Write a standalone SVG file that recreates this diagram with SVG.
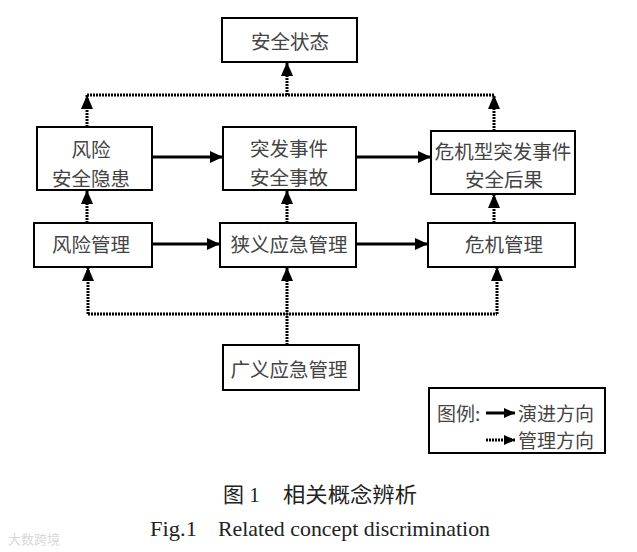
<svg xmlns="http://www.w3.org/2000/svg" width="637" height="552" viewBox="0 0 637 552">
<style>
.box{fill:#fff;stroke:#000;stroke-width:2}
.t{font-family:"Noto Sans CJK SC","Liberation Sans",sans-serif;font-size:19.5px;fill:#444;text-anchor:middle;dominant-baseline:central}
.lg{font-family:"Noto Sans CJK SC","Liberation Sans",sans-serif;font-size:19px;fill:#444;dominant-baseline:central}
.solid{stroke:#000;stroke-width:3;fill:none}
.dot{stroke:#000;stroke-width:3;fill:none;stroke-dasharray:2 1}
.cap{font-family:"Liberation Serif","Noto Sans CJK SC",serif;fill:#222}
</style>
<defs>
<marker id="ah" markerUnits="userSpaceOnUse" markerWidth="14" markerHeight="14" refX="13" refY="6" orient="auto">
<path d="M0,0 L13,6 L0,12 z" fill="#000"/>
</marker>
<marker id="sh" markerUnits="userSpaceOnUse" markerWidth="12" markerHeight="12" refX="11" refY="5" orient="auto">
<path d="M0,0 L11,5 L0,10 z" fill="#000"/>
</marker>
<marker id="dh" markerUnits="userSpaceOnUse" markerWidth="16" markerHeight="14" refX="14" refY="6" orient="auto">
<path d="M0,0 L14,6 L0,12 z" fill="#000"/>
</marker>
</defs>
<rect width="637" height="552" fill="#fff"/>

<g id="connectors">
<line class="solid" x1="152" y1="157" x2="223" y2="157" marker-end="url(#ah)"/>
<line class="solid" x1="356" y1="157" x2="431" y2="157" marker-end="url(#ah)"/>
<line class="solid" x1="152" y1="244" x2="220" y2="244" marker-end="url(#ah)"/>
<line class="solid" x1="356" y1="244" x2="428" y2="244" marker-end="url(#ah)"/>
<polyline class="dot" points="87,95 494,95"/>
<line class="dot" x1="87" y1="127" x2="87" y2="95" marker-end="url(#dh)"/>
<line class="dot" x1="494" y1="131" x2="494" y2="95" marker-end="url(#dh)"/>
<line class="dot" x1="287" y1="95" x2="287" y2="62" marker-end="url(#dh)"/>
<line class="dot" x1="87" y1="223" x2="87" y2="190" marker-end="url(#dh)"/>
<line class="dot" x1="287" y1="223" x2="287" y2="190" marker-end="url(#dh)"/>
<line class="dot" x1="494" y1="223" x2="494" y2="194" marker-end="url(#dh)"/>
<polyline class="dot" points="88,314 497,314"/>
<line class="dot" x1="88" y1="314" x2="88" y2="267" marker-end="url(#dh)"/>
<line class="dot" x1="497" y1="314" x2="497" y2="267" marker-end="url(#dh)"/>
<line class="dot" x1="287" y1="345" x2="287" y2="267" marker-end="url(#dh)"/>
</g>

<g id="n-safe">
<rect class="box" x="222" y="18" width="135" height="44"/>
<text class="t" x="290" y="40">安全状态</text>
</g>
<g id="n-risk">
<rect class="box" x="37" y="127" width="115" height="63"/>
<text class="t" x="91" y="148">风险</text>
<text class="t" x="91" y="177">安全隐患</text>
</g>
<g id="n-event">
<rect class="box" x="223" y="127" width="133" height="63"/>
<text class="t" x="289" y="147">突发事件</text>
<text class="t" x="289" y="176">安全事故</text>
</g>
<g id="n-crisis-event">
<rect class="box" x="431" y="131" width="144" height="63"/>
<text class="t" x="503" y="150">危机型突发事件</text>
<text class="t" x="504" y="178">安全后果</text>
</g>
<g id="n-risk-mgmt">
<rect class="box" x="34" y="223" width="118" height="44"/>
<text class="t" x="91" y="243">风险管理</text>
</g>
<g id="n-narrow">
<rect class="box" x="220" y="223" width="136" height="44"/>
<text class="t" x="289" y="243">狭义应急管理</text>
</g>
<g id="n-crisis-mgmt">
<rect class="box" x="428" y="223" width="147" height="44"/>
<text class="t" x="504" y="243">危机管理</text>
</g>
<g id="n-broad">
<rect class="box" x="223" y="345" width="136" height="45"/>
<text class="t" x="289" y="368">广义应急管理</text>
</g>

<g id="legend">
<rect class="box" x="429" y="388" width="176" height="65"/>
<text class="lg" x="437" y="412">图例:</text>
<line class="solid" x1="486" y1="413" x2="515" y2="413" stroke-width="2.5" marker-end="url(#sh)"/>
<text class="lg" x="518" y="412">演进方向</text>
<line class="dot" x1="486" y1="440" x2="515" y2="440" stroke-width="2.5" marker-end="url(#sh)"/>
<text class="lg" x="518" y="439">管理方向</text>
</g>

<g id="caption">
<text class="cap" x="223" y="502" font-size="21">图 1</text>
<text class="cap" x="283" y="502" font-size="21" textLength="134" lengthAdjust="spacingAndGlyphs">相关概念辨析</text>
<text class="cap" x="150" y="536" font-size="21" textLength="47" lengthAdjust="spacingAndGlyphs">Fig.1</text>
<text class="cap" x="218" y="536" font-size="21" textLength="272" lengthAdjust="spacingAndGlyphs">Related concept discrimination</text>
<text x="8" y="544" font-family="Noto Sans CJK SC,sans-serif" font-size="13" fill="#d8d8d8">大数跨境</text>
</g>
</svg>
